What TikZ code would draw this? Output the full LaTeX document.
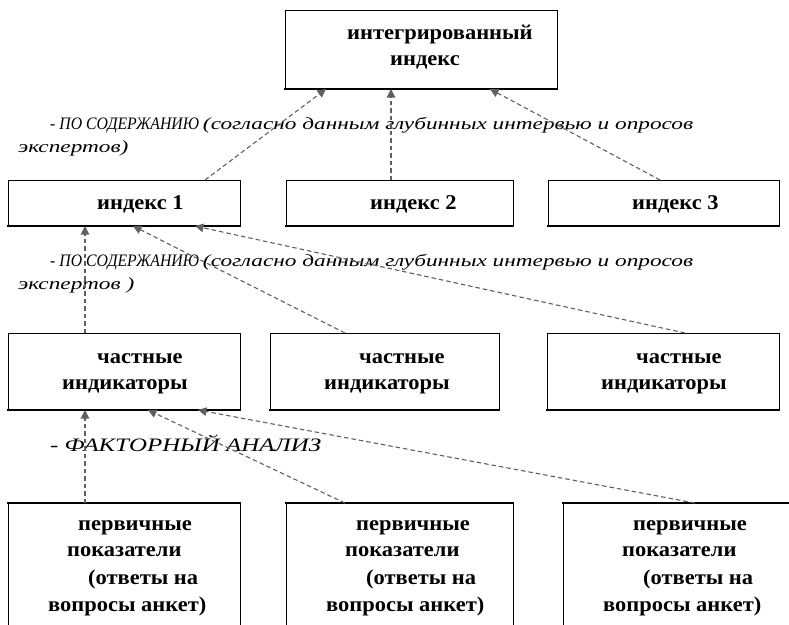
\documentclass[tikz,border=0pt]{standalone}
\usepackage{fontspec}
\setmainfont{Liberation Serif}
\newfontfamily\boxfont[FakeStretch=1.07]{Liberation Serif}
\newfontfamily\ucfont[FakeStretch=0.9]{Liberation Serif}
\newfontfamily\lcfont[FakeStretch=1.37]{Liberation Serif}
\newfontfamily\facfont[FakeStretch=1.31]{Liberation Serif}
\usetikzlibrary{arrows.meta,calc}
\definecolor{arrowgray}{RGB}{96,96,96}
\newcommand{\upl}[1]{{\ucfont\itshape\fontsize{17.5}{17.5}\selectfont #1}}
\newcommand{\lwl}[1]{{\lcfont\itshape\fontsize{17}{17}\selectfont #1}}
\begin{document}
\begin{tikzpicture}[x=1pt,y=-1pt,
  box/.style={draw=black, line width=1pt, anchor=north west, inner sep=0pt, outer sep=0pt},
  btxt/.style={font=\boxfont\bfseries\fontsize{21}{21}\selectfont, anchor=base west, inner sep=0pt},
  lbl/.style={anchor=base west, inner sep=0pt},
  shadow/.style={line width=2.6pt, line cap=rect},
  conn/.style={draw=arrowgray, dash pattern=on 4.5pt off 3pt, line width=1.1pt,
    -{Triangle[length=8.5pt,width=8.5pt]}}]
\useasboundingbox (0,0) rectangle (789,624);
\clip (0,0) rectangle (789,624);
\fill[white] (0,0) rectangle (789,624);

% top box
\node[box, minimum width=272pt, minimum height=79pt] (T) at (285,10) {};
\draw[shadow] (T.south west) -- (T.south east);
\node[btxt] (t1) at ($(T.north west)+(62,29)$) {интегрированный};
\node[btxt] (t2) at ($(T.north west)+(105,55)$) {индекс};

% index row
\node[box, minimum width=232pt, minimum height=46pt] (I1) at (8,180) {};
\node[box, minimum width=227pt, minimum height=46pt] (I2) at (286,180) {};
\node[box, minimum width=231pt, minimum height=46pt] (I3) at (548,180) {};
\foreach \n in {I1,I2,I3} \draw[shadow] (\n.south west) -- (\n.south east);
\node[btxt] (i1) at ($(I1.north west)+(89,29)$) {индекс 1};
\node[btxt] (i2) at ($(I2.north west)+(84,29)$) {индекс 2};
\node[btxt] (i3) at ($(I3.north west)+(84,29)$) {индекс 3};

% particular indicators row
\node[box, minimum width=232pt, minimum height=77pt] (P1) at (8,333) {};
\node[box, minimum width=229pt, minimum height=77pt] (P2) at (270,333) {};
\node[box, minimum width=232pt, minimum height=77pt] (P3) at (547,333) {};
\foreach \n in {P1,P2,P3} {
  \draw[shadow] (\n.south west) -- (\n.south east);
  \node[btxt] (\n a) at ($(\n.north west)+(89,30)$) {частные};
  \node[btxt] (\n b) at ($(\n.north west)+(54,56)$) {индикаторы};
}

% primary indicators row
\node[box, minimum width=232pt, minimum height=140pt] (B1) at (8,503) {};
\node[box, minimum width=227pt, minimum height=140pt] (B2) at (286,503) {};
\node[box, minimum width=240pt, minimum height=140pt] (B3) at (563,503) {};
\foreach \n in {B1,B2,B3} {
  \draw[shadow] (\n.north west) -- (\n.north east);
  \node[btxt] (\n a) at ($(\n.north west)+(70,27)$) {первичные};
  \node[btxt] (\n b) at ($(\n.north west)+(59,53)$) {показатели};
  \node[btxt] (\n c) at ($(\n.north west)+(80,81)$) {(ответы на};
  \node[btxt] (\n d) at ($(\n.north west)+(40,108)$) {вопросы анкет)};
}

% labels
\node[lbl] (L1a) at (50,129) {\upl{- ПО СОДЕРЖАНИЮ }\lwl{(согласно данным глубинных интервью и опросов}};
\node[lbl] (L1b) at (18,152) {\lwl{экспертов)}};
\node[lbl] (L2a) at (50,266) {\upl{- ПО СОДЕРЖАНИЮ }\lwl{(согласно данным глубинных интервью и опросов}};
\node[lbl] (L2b) at (18,289) {\lwl{экспертов )}};
\node[lbl] (L3) at (50,451) {\facfont\itshape\fontsize{19}{19}\selectfont - ФАКТОРНЫЙ АНАЛИЗ};

% connectors
\draw[conn] ($(I1.north west)+(197,0)$) -- ($(T.south west)+(41,0)$);
\draw[conn] ($(I2.north west)+(105,0)$) -- ($(T.south west)+(106,0)$);
\draw[conn] ($(I3.north west)+(112,0)$) -- ($(T.south west)+(205,0)$);

\draw[conn] ($(P1.north west)+(77,0)$) -- ($(I1.south west)+(77,0)$);
\draw[conn] ($(P2.north west)+(75,0)$) -- ($(I1.south west)+(125,0)$);
\draw[conn] ($(P3.north west)+(138,0)$) -- ($(I1.south west)+(187,0)$);

\draw[conn] ($(B1.north west)+(77,0)$) -- ($(P1.south west)+(77,0)$);
\draw[conn] ($(B2.north west)+(59,0)$) -- ($(P1.south west)+(140,0)$);
\draw[conn] ($(B3.north west)+(132,0)$) -- ($(P1.south west)+(190,0)$);
\end{tikzpicture}
\end{document}
